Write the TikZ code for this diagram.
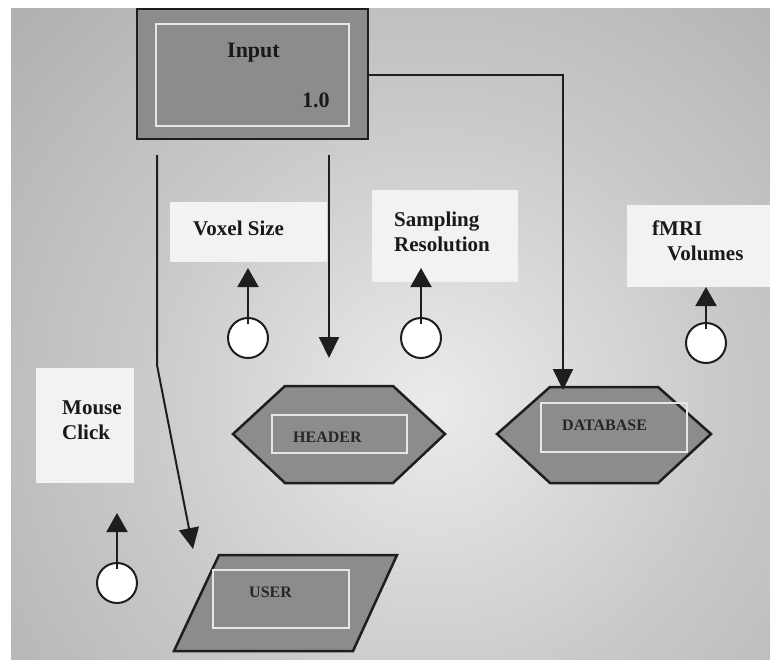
\documentclass[tikz,border=0pt]{standalone}
\usepackage{fontspec}
\setmainfont{Liberation Serif}
\usetikzlibrary{arrows.meta,calc}

\definecolor{bgcentre}{HTML}{EBEBEB}
\definecolor{bgmid}{HTML}{CACACA}
\definecolor{bgedge}{HTML}{A3A3A3}
\definecolor{bgfar}{HTML}{9A9A9A}
\definecolor{blockfill}{HTML}{8C8C8C}
\definecolor{edgeink}{HTML}{1E1E1E}
\definecolor{tagfill}{HTML}{F2F2F2}
\definecolor{framefill}{HTML}{E6E6E6}

\pgfdeclareradialshading{backglow}{\pgfpointorigin}{%
  color(0bp)=(bgcentre); color(8bp)=(bgmid); color(20bp)=(bgedge);
  color(30bp)=(bgfar); color(50bp)=(bgfar)}

\begin{document}
\begin{tikzpicture}[x=1pt,y=-1pt,
  block/.style={draw=edgeink, fill=blockfill, line width=2.5pt, line join=miter},
  frame/.style={draw=framefill, line width=1.8pt, inner sep=0pt, outer sep=0pt},
  tagbox/.style={fill=tagfill, draw=none, inner sep=0pt, outer sep=0pt},
  bigtext/.style={font=\fontsize{21}{25}\selectfont\bfseries, text=black!90,
                  inner sep=0pt, anchor=base west, align=left},
  smalltext/.style={font=\fontsize{16}{19}\selectfont\bfseries, text=black!85,
                  inner sep=0pt, anchor=base west},
  port/.style={circle, draw=edgeink, fill=white, line width=2pt,
               minimum size=40pt, inner sep=0pt},
  conn/.style={draw=edgeink, line width=2pt,
               -{Triangle[width=20pt,length=21pt]}},
  pull/.style={draw=edgeink, line width=2pt,
               -{Triangle[width=21pt,length=19pt]}}]

\useasboundingbox (0,0) rectangle (770,659);
\fill[white] (0,0) rectangle (770,659);

% shaded backdrop
\begin{scope}
  \clip (11,8) rectangle (770,659);
  \fill[bgfar] (11,8) rectangle (770,659);
  \shade[shading=backglow] (432,405) circle (900);
\end{scope}

% Input block
\node[block, minimum width=231pt, minimum height=130pt, inner sep=0pt]
  (input) at (252.5,74) {};
\node[frame, minimum width=193pt, minimum height=102pt] (inframe) at (252.5,75) {};
\node[bigtext, font=\fontsize{22}{26}\selectfont\bfseries] (intitle) at (227,57) {Input};
\node[bigtext, font=\fontsize{22}{26}\selectfont\bfseries] (inver) at (302,107) {1.0};

% HEADER hexagon
\draw[block] (233,434) coordinate (hdrW) -- (285,386) coordinate (hdrNW)
  -- (393,386) coordinate (hdrNE) -- (445,434) coordinate (hdrE)
  -- (393,483) -- (285,483) -- cycle;
\node[frame, minimum width=135pt, minimum height=38pt] (hdrframe) at (339.5,434) {};
\node[smalltext] (header) at (293,442) {HEADER};

% DATABASE hexagon
\draw[block] (497,434) coordinate (dbW) -- (550,387) coordinate (dbNW)
  -- (658,387) coordinate (dbNE) -- (711,434) coordinate (dbE)
  -- (658,483) -- (550,483) -- cycle;
\node[frame, minimum width=146pt, minimum height=49pt] (dbframe) at (614,427.5) {};
\node[smalltext] (database) at (562,430) {DATABASE};

% USER parallelogram
\draw[block] (219,555) coordinate (usrNW) -- (397,555) coordinate (usrNE)
  -- (353,651) -- (174,651) -- cycle;
\node[frame, minimum width=136pt, minimum height=58pt] (usrframe) at (281,599) {};
\node[smalltext] (user) at (249,597) {USER};

% labels (multi-line text is anchored on its last baseline)
\node[tagbox, minimum width=157pt, minimum height=60pt] (voxbox) at (248.5,232) {};
\node[bigtext] (voxtxt) at (193,235) {Voxel Size};

\node[tagbox, minimum width=146pt, minimum height=92pt] (sampbox) at (445,236) {};
\node[bigtext] (samptxt) at (394,251) {Sampling\\Resolution};

\node[tagbox, minimum width=143pt, minimum height=82pt] (fmribox) at (698.5,246) {};
\node[bigtext] (fmritxt) at (652,260) {fMRI\\\hspace*{15pt}Volumes};

\node[tagbox, minimum width=98pt, minimum height=115pt] (mousebox) at (85,425.5) {};
\node[bigtext] (mousetxt) at (62,439) {Mouse\\Click};

% ports
\node[port] (voxport) at (248,338) {};
\node[port] (sampport) at (421,338) {};
\node[port] (fmriport) at (706,343) {};
\node[port] (mouseport) at (117,583) {};

\coordinate (voxtip) at (248,268);
\coordinate (samptip) at (421,268);
\coordinate (fmritip) at (706,287);
\coordinate (mousetip) at (117,513);

\draw[pull] ([yshift=-7pt]voxport.north) -- (voxtip);
\draw[pull] ([yshift=-7pt]sampport.north) -- (samptip);
\draw[pull] ([yshift=-7pt]fmriport.north) -- (fmritip);
\draw[pull] ([yshift=-7pt]mouseport.north) -- (mousetip);

% connectors from Input
\coordinate (dbtip) at (563,390);
\coordinate (hdrstart) at (329,155);
\coordinate (hdrtip) at (329,358);
\coordinate (usrstart) at (157,155);
\coordinate (usrbend) at (157,365);
\coordinate (usrtip) at (193,549);

\draw[conn] ([yshift=-1pt]input.east) -| (dbtip);
\draw[conn] (hdrstart) -- (hdrtip);
\draw[conn] (usrstart) -- (usrbend) -- (usrtip);

\end{tikzpicture}
\end{document}
